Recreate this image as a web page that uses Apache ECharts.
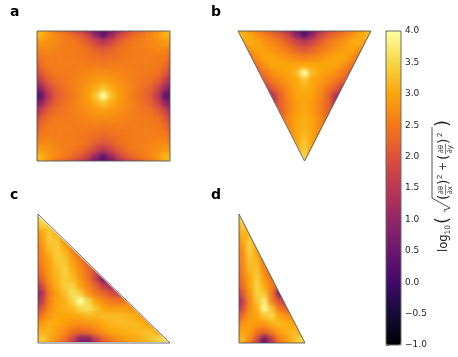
<!DOCTYPE html>
<html>
<head>
<meta charset="utf-8">
<title>gradient magnitude</title>
<script src="https://cdn.jsdelivr.net/npm/echarts@6/dist/echarts.min.js"></script>
<style>
html,body{margin:0;background:#fff;}
#wrap{position:relative;width:458px;height:357px;overflow:hidden;}
#field,#top{position:absolute;left:0;top:0;width:458px;height:357px;}
/* cells are smoothed and cut to the panel shapes here */
#field{filter:blur(2px);clip-path:path('M37 31H170V161H37Z M238 31H371L305 161Z M38 215.5L168 342H38Z M239 214L305 343H239Z');}
</style>
</head>
<body>
<div id="wrap"><div id="field"></div><div id="top"></div></div>
<script>
var inferno=['#000004','#160b39','#420a68','#6a176e','#932667','#bc3754','#dd513a','#f37819','#fca50a','#f6d746','#fcffa4'];
var cbarTicks=[-1,4,0.5];

var fieldA=[
[3.2,3.1,2.7,2.2,1.8,1.4,1.0,0.6,0.2,0.0,0.2,0.6,1.0,1.4,1.8,2.2,2.7,3.1,3.2],
[3.1,3.15,2.85,2.65,2.5,2.35,2.1,1.7,1.0,0.4,1.0,1.7,2.1,2.35,2.5,2.65,2.85,3.15,3.1],
[2.7,2.85,2.75,2.65,2.55,2.5,2.4,2.15,1.8,1.5,1.8,2.15,2.4,2.5,2.55,2.65,2.75,2.85,2.7],
[2.2,2.65,2.65,2.6,2.55,2.55,2.5,2.4,2.2,2.1,2.2,2.4,2.5,2.55,2.55,2.6,2.65,2.65,2.2],
[1.8,2.5,2.55,2.55,2.55,2.55,2.5,2.45,2.4,2.35,2.4,2.45,2.5,2.55,2.55,2.55,2.55,2.5,1.8],
[1.4,2.35,2.5,2.55,2.55,2.55,2.55,2.55,2.55,2.5,2.55,2.55,2.55,2.55,2.55,2.55,2.5,2.35,1.4],
[1.0,2.1,2.4,2.5,2.5,2.55,2.6,2.65,2.7,2.7,2.7,2.65,2.6,2.55,2.5,2.5,2.4,2.1,1.0],
[0.6,1.7,2.15,2.4,2.45,2.55,2.65,2.75,2.85,2.9,2.85,2.75,2.65,2.55,2.45,2.4,2.15,1.7,0.6],
[0.2,1.0,1.8,2.2,2.4,2.55,2.7,2.85,3.05,3.3,3.05,2.85,2.7,2.55,2.4,2.2,1.8,1.0,0.2],
[0.0,0.4,1.5,2.1,2.35,2.5,2.7,2.9,3.3,4.0,3.3,2.9,2.7,2.5,2.35,2.1,1.5,0.4,0.0],
[0.2,1.0,1.8,2.2,2.4,2.55,2.7,2.85,3.05,3.3,3.05,2.85,2.7,2.55,2.4,2.2,1.8,1.0,0.2],
[0.6,1.7,2.15,2.4,2.45,2.55,2.65,2.75,2.85,2.9,2.85,2.75,2.65,2.55,2.45,2.4,2.15,1.7,0.6],
[1.0,2.1,2.4,2.5,2.5,2.55,2.6,2.65,2.7,2.7,2.7,2.65,2.6,2.55,2.5,2.5,2.4,2.1,1.0],
[1.4,2.35,2.5,2.55,2.55,2.55,2.55,2.55,2.55,2.5,2.55,2.55,2.55,2.55,2.55,2.55,2.5,2.35,1.4],
[1.8,2.5,2.55,2.55,2.55,2.55,2.5,2.45,2.4,2.35,2.4,2.45,2.5,2.55,2.55,2.55,2.55,2.5,1.8],
[2.2,2.65,2.65,2.6,2.55,2.55,2.5,2.4,2.2,2.1,2.2,2.4,2.5,2.55,2.55,2.6,2.65,2.65,2.2],
[2.7,2.85,2.75,2.65,2.55,2.5,2.4,2.15,1.8,1.5,1.8,2.15,2.4,2.5,2.55,2.65,2.75,2.85,2.7],
[3.1,3.15,2.85,2.65,2.5,2.35,2.1,1.7,1.0,0.4,1.0,1.7,2.1,2.35,2.5,2.65,2.85,3.15,3.1],
[3.2,3.1,2.7,2.2,1.8,1.4,1.0,0.6,0.2,0.0,0.2,0.6,1.0,1.4,1.8,2.2,2.7,3.1,3.2]
];
var fieldB=[
[3.0,3.0,2.6,2.2,1.8,1.4,1.0,0.6,0.2,0.0,0.2,0.6,1.0,1.4,1.8,2.2,2.6,3.0,3.0],
[3.0,3.2,3.0,2.75,2.55,2.35,2.1,1.7,0.9,0.3,0.9,1.7,2.1,2.35,2.55,2.75,3.0,3.2,3.0],
[2.5,2.9,3.1,3.0,2.8,2.65,2.45,2.15,1.8,1.5,1.8,2.15,2.45,2.65,2.8,3.0,3.1,2.9,2.5],
[2.0,2.4,2.8,3.0,2.9,2.8,2.65,2.5,2.25,2.1,2.25,2.5,2.65,2.8,2.9,3.0,2.8,2.4,2.0],
[2.0,2.0,2.4,2.8,3.0,3.0,2.9,2.75,2.65,2.6,2.65,2.75,2.9,3.0,3.0,2.8,2.4,2.0,2.0],
[2.0,2.0,2.0,2.5,2.8,3.0,3.0,3.0,3.0,3.0,3.0,3.0,3.0,3.0,2.8,2.5,2.0,2.0,2.0],
[2.0,2.0,2.0,2.1,2.5,2.8,2.9,3.0,3.2,4.0,3.2,3.0,2.9,2.8,2.5,2.1,2.0,2.0,2.0],
[2.0,2.0,2.0,1.8,2.2,2.5,2.7,2.9,3.0,3.3,3.0,2.9,2.7,2.5,2.2,1.8,2.0,2.0,2.0],
[2.0,2.0,2.0,1.5,1.5,2.15,2.5,2.75,3.0,3.1,3.0,2.75,2.5,2.15,1.5,1.5,2.0,2.0,2.0],
[2.0,2.0,2.0,1.2,0.5,1.4,2.3,2.7,2.95,3.0,2.95,2.7,2.3,1.4,0.5,1.2,2.0,2.0,2.0],
[2.0,2.0,2.0,1.2,0.8,1.5,2.25,2.6,2.9,3.0,2.9,2.6,2.25,1.5,0.8,1.2,2.0,2.0,2.0],
[2.0,2.0,2.0,1.5,1.4,1.8,2.2,2.6,2.9,3.0,2.9,2.6,2.2,1.8,1.4,1.5,2.0,2.0,2.0],
[2.0,2.0,2.0,2.0,1.8,2.0,2.3,2.7,3.0,3.1,3.0,2.7,2.3,2.0,1.8,2.0,2.0,2.0,2.0],
[2.0,2.0,2.0,2.0,2.0,2.0,2.4,2.7,3.0,3.1,3.0,2.7,2.4,2.0,2.0,2.0,2.0,2.0,2.0],
[2.0,2.0,2.0,2.0,2.0,2.0,2.2,2.6,3.0,3.2,3.0,2.6,2.2,2.0,2.0,2.0,2.0,2.0,2.0],
[2.0,2.0,2.0,2.0,2.0,2.0,2.2,2.4,3.0,3.3,3.0,2.4,2.2,2.0,2.0,2.0,2.0,2.0,2.0],
[2.0,2.0,2.0,2.0,2.0,2.0,2.2,2.4,3.0,3.4,3.0,2.4,2.2,2.0,2.0,2.0,2.0,2.0,2.0],
[2.0,2.0,2.0,2.0,2.0,2.0,2.2,2.4,2.8,3.5,2.8,2.4,2.2,2.0,2.0,2.0,2.0,2.0,2.0],
[2.0,2.0,2.0,2.0,2.0,2.0,2.2,2.4,2.5,3.3,2.5,2.4,2.2,2.0,2.0,2.0,2.0,2.0,2.0]
];
var fieldC=[
[3.6,3.6,2.5,2.0,2.0,2.0,2.0,2.0,2.0,2.0,2.0,2.0,2.0,2.0,2.0,2.0,2.0,2.0,2.0],
[3.0,3.7,3.0,2.0,2.0,2.0,2.0,2.0,2.0,2.0,2.0,2.0,2.0,2.0,2.0,2.0,2.0,2.0,2.0],
[2.8,3.4,3.4,2.6,2.0,2.0,2.0,2.0,2.0,2.0,2.0,2.0,2.0,2.0,2.0,2.0,2.0,2.0,2.0],
[2.6,3.0,3.35,3.1,2.5,2.0,2.0,2.0,2.0,2.0,2.0,2.0,2.0,2.0,2.0,2.0,2.0,2.0,2.0],
[2.5,2.9,3.35,3.3,2.8,2.3,2.0,2.0,2.0,2.0,2.0,2.0,2.0,2.0,2.0,2.0,2.0,2.0,2.0],
[2.3,2.75,3.25,3.35,3.05,2.6,2.1,2.0,2.0,2.0,2.0,2.0,2.0,2.0,2.0,2.0,2.0,2.0,2.0],
[2.2,2.7,3.05,3.4,3.25,2.8,2.4,2.0,2.0,2.0,2.0,2.0,2.0,2.0,2.0,2.0,2.0,2.0,2.0],
[2.1,2.6,2.95,3.3,3.35,2.95,2.6,2.2,1.8,1.6,2.0,2.0,2.0,2.0,2.0,2.0,2.0,2.0,2.0],
[1.8,2.5,2.9,3.2,3.45,3.1,2.7,2.35,1.8,1.2,1.2,2.0,2.0,2.0,2.0,2.0,2.0,2.0,2.0],
[1.4,2.3,2.85,3.15,3.4,3.2,2.8,2.4,1.7,0.5,0.7,1.2,2.0,2.0,2.0,2.0,2.0,2.0,2.0],
[0.8,1.9,2.7,3.1,3.4,3.45,2.95,2.6,2.2,1.6,1.2,1.4,2.0,2.0,2.0,2.0,2.0,2.0,2.0],
[0.3,1.3,2.5,2.95,3.25,3.6,3.4,2.8,2.5,2.25,1.9,1.7,2.0,2.0,2.0,2.0,2.0,2.0,2.0],
[0.6,1.6,2.6,2.95,3.1,3.5,4.0,3.5,2.95,2.7,2.5,2.45,2.5,2.5,2.5,2.5,2.5,2.5,2.5],
[1.2,2.1,2.7,3.0,3.1,3.2,3.5,3.6,3.3,3.0,2.9,2.9,2.9,2.8,2.6,2.5,2.5,2.5,2.5],
[1.9,2.5,2.85,3.0,3.0,3.0,3.05,3.15,3.15,3.2,3.2,3.2,3.15,3.1,2.9,2.6,2.5,2.5,2.5],
[2.5,2.9,3.1,3.0,2.9,2.8,2.75,2.8,2.9,3.05,3.15,3.2,3.2,3.2,3.1,2.9,2.6,2.5,2.5],
[2.8,3.1,3.1,2.9,2.7,2.4,2.3,2.35,2.6,2.85,3.0,3.05,3.1,3.15,3.2,3.25,3.0,2.7,2.7],
[3.0,3.4,3.1,2.8,2.4,1.8,0.9,0.9,1.7,2.3,2.6,2.8,2.95,3.05,3.15,3.3,3.5,3.6,3.5],
[3.0,3.0,2.5,2.0,1.5,1.0,0.3,0.2,0.8,1.5,2.0,2.3,2.5,2.7,2.9,3.0,3.2,3.5,3.5]
];
var fieldD=[
[3.4,3.4,2.5,2.0,2.0,2.0,2.0,2.0,2.0,2.0,2.0],
[3.0,3.6,2.8,2.0,2.0,2.0,2.0,2.0,2.0,2.0,2.0],
[2.7,3.4,2.9,2.2,2.0,2.0,2.0,2.0,2.0,2.0,2.0],
[2.5,3.2,3.1,2.4,2.0,2.0,2.0,2.0,2.0,2.0,2.0],
[2.5,3.0,3.4,2.7,2.2,2.0,2.0,2.0,2.0,2.0,2.0],
[2.4,2.8,3.45,2.85,2.2,2.0,2.0,2.0,2.0,2.0,2.0],
[2.3,2.7,3.35,3.05,2.3,2.0,2.0,2.0,2.0,2.0,2.0],
[2.2,2.65,3.25,3.2,2.5,2.0,2.0,2.0,2.0,2.0,2.0],
[2.0,2.6,3.15,3.3,2.7,2.2,2.0,2.0,2.0,2.0,2.0],
[1.8,2.5,3.0,3.4,2.85,2.4,2.0,1.7,2.0,2.0,2.0],
[1.3,2.35,2.95,3.5,3.05,2.55,2.0,1.2,2.0,2.0,2.0],
[1.0,2.1,2.8,3.45,3.3,2.5,0.9,0.6,1.5,2.0,2.0],
[0.3,1.6,2.7,3.3,3.75,2.6,2.0,1.3,1.8,2.0,2.0],
[1.0,1.9,2.75,3.1,3.95,3.3,2.5,2.2,2.2,2.2,2.2],
[1.6,2.4,2.85,3.0,3.3,3.5,3.0,2.8,2.8,2.6,2.6],
[2.2,2.8,2.95,2.85,2.85,3.1,3.2,3.1,3.0,2.8,2.8],
[2.7,3.0,2.9,2.5,2.3,2.6,2.95,3.1,3.2,3.0,3.0],
[3.0,3.2,2.7,1.9,0.6,1.7,2.6,2.9,3.2,3.5,3.3],
[3.0,3.0,2.3,1.2,0.2,1.0,2.2,2.7,3.1,3.4,3.4]
];

var squareLine=[[0,0],[1,0],[1,1],[0,1],[0,0]];
var downLine=[[0,1],[1,1],[0.5,0],[0,1]];
var rightLine=[[0,1],[0,0],[1,0],[0,1]];
var cbarLine=[[0,-1],[1,-1],[1,4],[0,4],[0,-1]];

function cells(rows){
    var out=[];
    rows.forEach(function(row,r){
        row.forEach(function(v,c){ out.push([c,r,v]); });
    });
    return out;
}
function range(n){
    var a=[];
    for(var i=0;i<n;i++){ a.push(i); }
    return a;
}

// heatmap layer, one extra row of cells round each panel so the blur has no white edge
var fieldPanels=[
    {rows:fieldA,left:29.18,top:23.35,width:148.6,height:145.3},
    {rows:fieldB,left:230.18,top:23.35,width:148.6,height:145.3},
    {rows:fieldC,left:30.24,top:206.41,width:147.5,height:144.2},
    {rows:fieldD,left:231.67,top:206.41,width:80.6,height:144.2}
];
var chart=echarts.init(document.getElementById('field'),null,{renderer:'canvas'});
chart.setOption({
    animation:false,
    visualMap:{show:false,min:-1,max:4,inRange:{color:inferno},seriesIndex:[0,1,2,3]},
    grid:fieldPanels.map(function(p){
        return {left:p.left,top:p.top,width:p.width,height:p.height};
    }),
    xAxis:fieldPanels.map(function(p,i){
        return {type:'category',gridIndex:i,show:false,data:range(p.rows[0].length)};
    }),
    yAxis:fieldPanels.map(function(p,i){
        return {type:'category',gridIndex:i,show:false,inverse:true,data:range(p.rows.length)};
    }),
    series:fieldPanels.map(function(p,i){
        return {type:'heatmap',xAxisIndex:i,yAxisIndex:i,data:cells(p.rows),silent:true};
    })
});

// outlines, colour bar and texts
var linePanels=[
    {pts:squareLine,left:37,top:31,width:133,height:130},
    {pts:downLine,left:238,top:31,width:133,height:130},
    {pts:rightLine,left:38,top:214,width:132,height:129},
    {pts:rightLine,left:239,top:214,width:66,height:129}
];
var inkColor='#262626';
function txt(s,x,y,size,extra){
    return {type:'text',x:x,y:y,silent:true,style:Object.assign({
        text:s,fill:inkColor,font:size+'px "DejaVu Sans"',textAlign:'left',textVerticalAlign:'middle'
    },extra||{})};
}
function letter(s,x,y){
    return {type:'text',left:x,top:y,silent:true,style:{text:s,fill:'#000',font:'bold 14px "DejaVu Sans"'}};
}
function frac(top,bottom,x){
    return [
        txt(top,x,0,7,{textAlign:'center'}),
        txt(bottom,x,9,7,{textAlign:'center'}),
        {type:'line',silent:true,shape:{x1:x-5,y1:4.5,x2:x+5,y2:4.5},style:{stroke:inkColor,lineWidth:0.6}}
    ];
}
var labelParts=[
    txt('log',0,3.5,11.5),
    txt('10',17.5,7.5,7.5),
    txt('(',28,2,18),
    {type:'polyline',silent:true,shape:{points:[[40,4],[42,3],[44,9],[54,-9],[125,-9]]},style:{stroke:inkColor,lineWidth:0.8,fill:'none'}},
    txt('(',52,3,14)
].concat(frac('∂θ','∂x',62)).concat([
    txt(')',67,3,14),
    txt('2',73,-1,7),
    txt('+',81,2.5,11),
    txt('(',92,3,14)
]).concat(frac('∂θ','∂y',103)).concat([
    txt(')',108,3,14),
    txt('2',115,-1,7),
    txt(')',125,2,18)
]);

var topChart=echarts.init(document.getElementById('top'),null,{renderer:'canvas'});
var overlayGrids=linePanels.map(function(p){
    return {left:p.left,top:p.top,width:p.width,height:p.height};
});
overlayGrids.push({left:386,top:31,width:15,height:314});
var overlaySeries=linePanels.map(function(p,i){
    return {type:'line',xAxisIndex:i,yAxisIndex:i,data:p.pts,showSymbol:false,clip:false,silent:true,
        lineStyle:{color:'#5a5a5a',width:0.9}};
});
overlaySeries.push({type:'line',xAxisIndex:4,yAxisIndex:4,data:cbarLine,showSymbol:false,clip:false,silent:true,
    lineStyle:{color:'#6a6a6a',width:1}});
var overlayX=[],overlayY=[];
linePanels.forEach(function(p,i){
    overlayX.push({type:'value',gridIndex:i,show:false,min:0,max:1});
    overlayY.push({type:'value',gridIndex:i,show:false,min:0,max:1});
});
overlayX.push({type:'value',gridIndex:4,show:false,min:0,max:1});
overlayY.push({
    type:'value',gridIndex:4,position:'right',min:cbarTicks[0],max:cbarTicks[1],interval:cbarTicks[2],
    splitLine:{show:false},
    axisLine:{show:false},
    axisTick:{show:true,length:3,lineStyle:{color:inkColor,width:0.7}},
    axisLabel:{margin:4,fontSize:9,fontFamily:'DejaVu Sans',color:inkColor,
        formatter:function(v){ return v.toFixed(1).replace('-','\u2212'); }}
});
topChart.setOption({
    animation:false,
    visualMap:{show:true,min:-1,max:4,left:386,top:31,itemWidth:15,itemHeight:314,padding:0,z:1,
        showLabel:false,text:null,calculable:false,hoverLink:false,seriesIndex:[],inRange:{color:inferno}},
    grid:overlayGrids,
    xAxis:overlayX,
    yAxis:overlayY,
    series:overlaySeries,
    graphic:[
        letter('a',10,5),letter('b',211,5),letter('c',10,188),letter('d',211,188),
        {type:'group',x:441,y:252,rotation:Math.PI/2,children:labelParts}
    ]
});
</script>
</body>
</html>
